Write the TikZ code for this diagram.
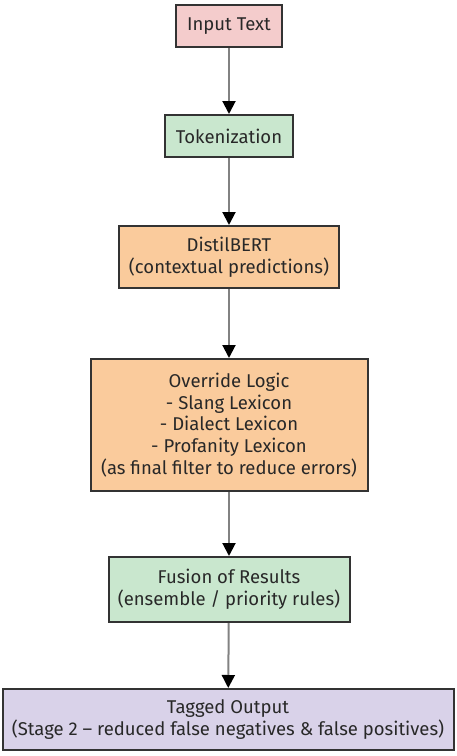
\documentclass[tikz,border=0pt]{standalone}
\usepackage{fontspec}
\setmainfont{Fira Sans}
\usetikzlibrary{arrows.meta}
\definecolor{pinkfill}{RGB}{244,204,204}
\definecolor{greenfill}{RGB}{201,231,206}
\definecolor{orangefill}{RGB}{250,203,156}
\definecolor{purplefill}{RGB}{217,210,233}
\definecolor{edgegray}{RGB}{51,51,51}
\definecolor{textgray}{RGB}{40,40,40}
\definecolor{linegray}{RGB}{130,130,130}

\begin{document}
\begin{tikzpicture}[x=1pt,y=1pt,
  box/.style={draw=edgegray,line width=2pt,align=center,text=textgray,
    font=\fontsize{18.5}{21.8}\selectfont,inner sep=0pt},
  flow/.style={draw=linegray,line width=2pt,-{Triangle[black,length=13pt,width=13pt]}}]
  \useasboundingbox (0,0) rectangle (456,-756);
  \node[box,fill=pinkfill,minimum width=106,minimum height=42] (input) at (229,-26) {Input Text};
  \node[box,fill=greenfill,minimum width=128,minimum height=42] (token) at (229,-136) {Tokenization};
  \node[box,fill=orangefill,minimum width=220,minimum height=62] (bert) at (229,-257) {DistilBERT\\(contextual predictions)};
  \node[box,fill=orangefill,minimum width=277,minimum height=132] (override) at (229,-425) {Override Logic\\- Slang Lexicon\\- Dialect Lexicon\\- Profanity Lexicon\\(as final filter to reduce errors)};
  \node[box,fill=greenfill,minimum width=241,minimum height=65] (fusion) at (229,-589.5) {Fusion of Results\\(ensemble / priority rules)};
  \node[box,fill=purplefill,minimum width=451,minimum height=61] (output) at (228,-719.5) {Tagged Output\\(Stage 2 -- reduced false negatives \& false positives)};
  \draw[flow] (input) -- (token);
  \draw[flow] (token) -- (bert);
  \draw[flow] (bert) -- (override);
  \draw[flow] (override) -- (fusion);
  \draw[flow] (fusion) -- (output);
\end{tikzpicture}
\end{document}
